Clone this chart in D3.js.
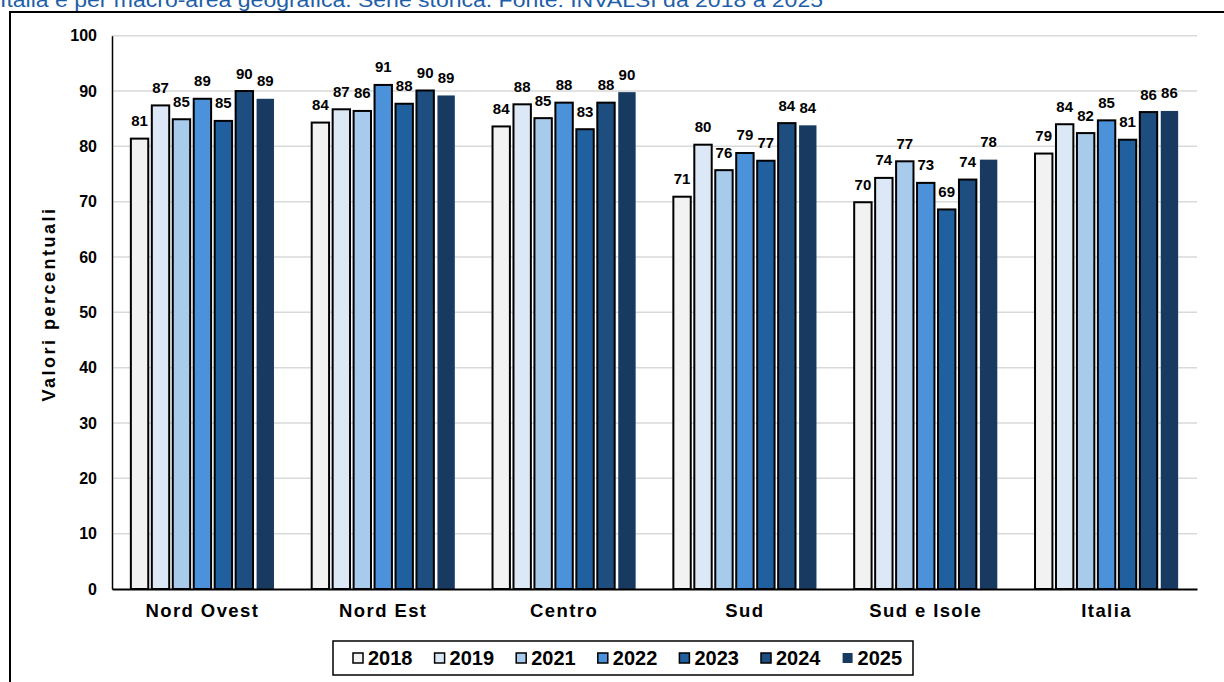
<!DOCTYPE html>
<html><head><meta charset="utf-8">
<script src="https://cdn.jsdelivr.net/npm/d3@7"></script>
<style>body{margin:0;background:#fff;}svg{display:block;font-family:Arial,"Liberation Sans",sans-serif;}</style>
</head><body><svg id="c" width="1224" height="682"></svg>
<script>
const categories = ["Nord Ovest","Nord Est","Centro","Sud","Sud e Isole","Italia"];
const years = ["2018","2019","2021","2022","2023","2024","2025"];
const v2018 = [81.4, 84.3, 83.6, 70.9, 69.9, 78.7];
const v2019 = [87.4, 86.7, 87.6, 80.3, 74.3, 84.0];
const v2021 = [84.9, 86.4, 85.1, 75.7, 77.3, 82.4];
const v2022 = [88.6, 91.1, 87.9, 78.8, 73.4, 84.7];
const v2023 = [84.6, 87.7, 83.1, 77.4, 68.6, 81.2];
const v2024 = [90.0, 90.1, 87.9, 84.2, 74.0, 86.2];
const v2025 = [88.6, 89.2, 89.8, 83.8, 77.6, 86.4];
const yTicks = [0,10,20,30,40,50,60,70,80,90,100];
const colors = ["#f2f2f2","#dce8f6","#a8caeb","#4b92da","#20609e","#1d4e7f","#193a60"];
const title = "Italia e per macro-area geografica. Serie storica. Fonte: INVALSI da 2018 a 2025";
const yTitle = "Valori percentuali";

const series = [v2018,v2019,v2021,v2022,v2023,v2024,v2025];
const svg = d3.select("#c");

svg.append("text").attr("x",0).attr("y",7).attr("fill","#1f5fa8")
  .attr("font-size",21).attr("textLength",823).attr("lengthAdjust","spacingAndGlyphs").text(title);
svg.append("rect").attr("x",10).attr("y",12).attr("width",1230).attr("height",690)
  .attr("fill","none").attr("stroke","#000").attr("stroke-width",2);

const L=112,R=1197,T=35.7,B=589;
const x0 = d3.scaleBand().domain(categories).range([L,R]);
const x1 = d3.scaleBand().domain(years).range([0,x0.bandwidth()]).paddingInner(0.17).paddingOuter(0.9);
const y = d3.scaleLinear().domain([0,100]).range([B,T]);

// gridlines
svg.append("g").selectAll("line").data(yTicks.filter(d=>d>0)).join("line")
  .attr("x1",L).attr("x2",R).attr("y1",d=>y(d)).attr("y2",d=>y(d))
  .attr("stroke","#d9d9d9").attr("stroke-width",1.5);

// y axis
const ya = svg.append("g").attr("transform",`translate(${L},0)`)
  .call(d3.axisLeft(y).tickValues(yTicks).tickSize(0).tickPadding(15));
ya.select(".domain").attr("stroke","#000").attr("stroke-width",1.5);
ya.selectAll("text").attr("font-size",16).attr("font-weight","bold").attr("fill","#000")
  .attr("font-family","Arial, 'Liberation Sans', sans-serif");

// bars
const groups = svg.append("g").selectAll("g").data(categories).join("g")
  .attr("transform",d=>`translate(${x0(d)},0)`);
groups.each(function(cat,ci){
  const g=d3.select(this);
  years.forEach((yr,si)=>{
    const v=series[si][ci];
    g.append("rect").attr("x",x1(yr)).attr("width",x1.bandwidth())
      .attr("y",y(v)).attr("height",B-y(v)).attr("fill",colors[si])
      .attr("stroke",si===6?"none":"#000").attr("stroke-width",si===6?0:2);
    g.append("text").attr("x",x1(yr)+x1.bandwidth()/2).attr("y",y(v)-12.5)
      .attr("text-anchor","middle").attr("font-size",15).attr("font-weight","bold")
      .text(d3.format(".0f")(v));
  });
});

// x axis
const xa = svg.append("g").attr("transform",`translate(0,${B})`)
  .call(d3.axisBottom(x0).tickSize(0).tickPadding(15));
xa.select(".domain").attr("stroke","#000").attr("stroke-width",2);
xa.selectAll("text").attr("font-size",18.5).attr("font-weight","bold").attr("fill","#000")
  .attr("letter-spacing",1.4).attr("font-family","Arial, 'Liberation Sans', sans-serif");

// y title
svg.append("text").attr("transform","translate(55,304) rotate(-90)")
  .attr("text-anchor","middle").attr("font-size",18).attr("font-weight","bold")
  .attr("letter-spacing",2.5).text(yTitle);

// legend
svg.append("rect").attr("x",333).attr("y",641).attr("width",580).attr("height",34)
  .attr("fill","#fff").attr("stroke","#000").attr("stroke-width",1.5);
const lg = svg.append("g").selectAll("g").data(years).join("g")
  .attr("transform",(d,i)=>`translate(${353+i*81.6},658)`);
lg.append("rect").attr("x",0).attr("y",-5).attr("width",10).attr("height",10)
  .attr("fill",(d,i)=>colors[i]).attr("stroke",(d,i)=>i===6?"none":"#000").attr("stroke-width",1.5);
lg.append("text").attr("x",15).attr("y",7).attr("font-size",20).attr("font-weight","bold")
  .text(d=>d);
</script></body></html>
